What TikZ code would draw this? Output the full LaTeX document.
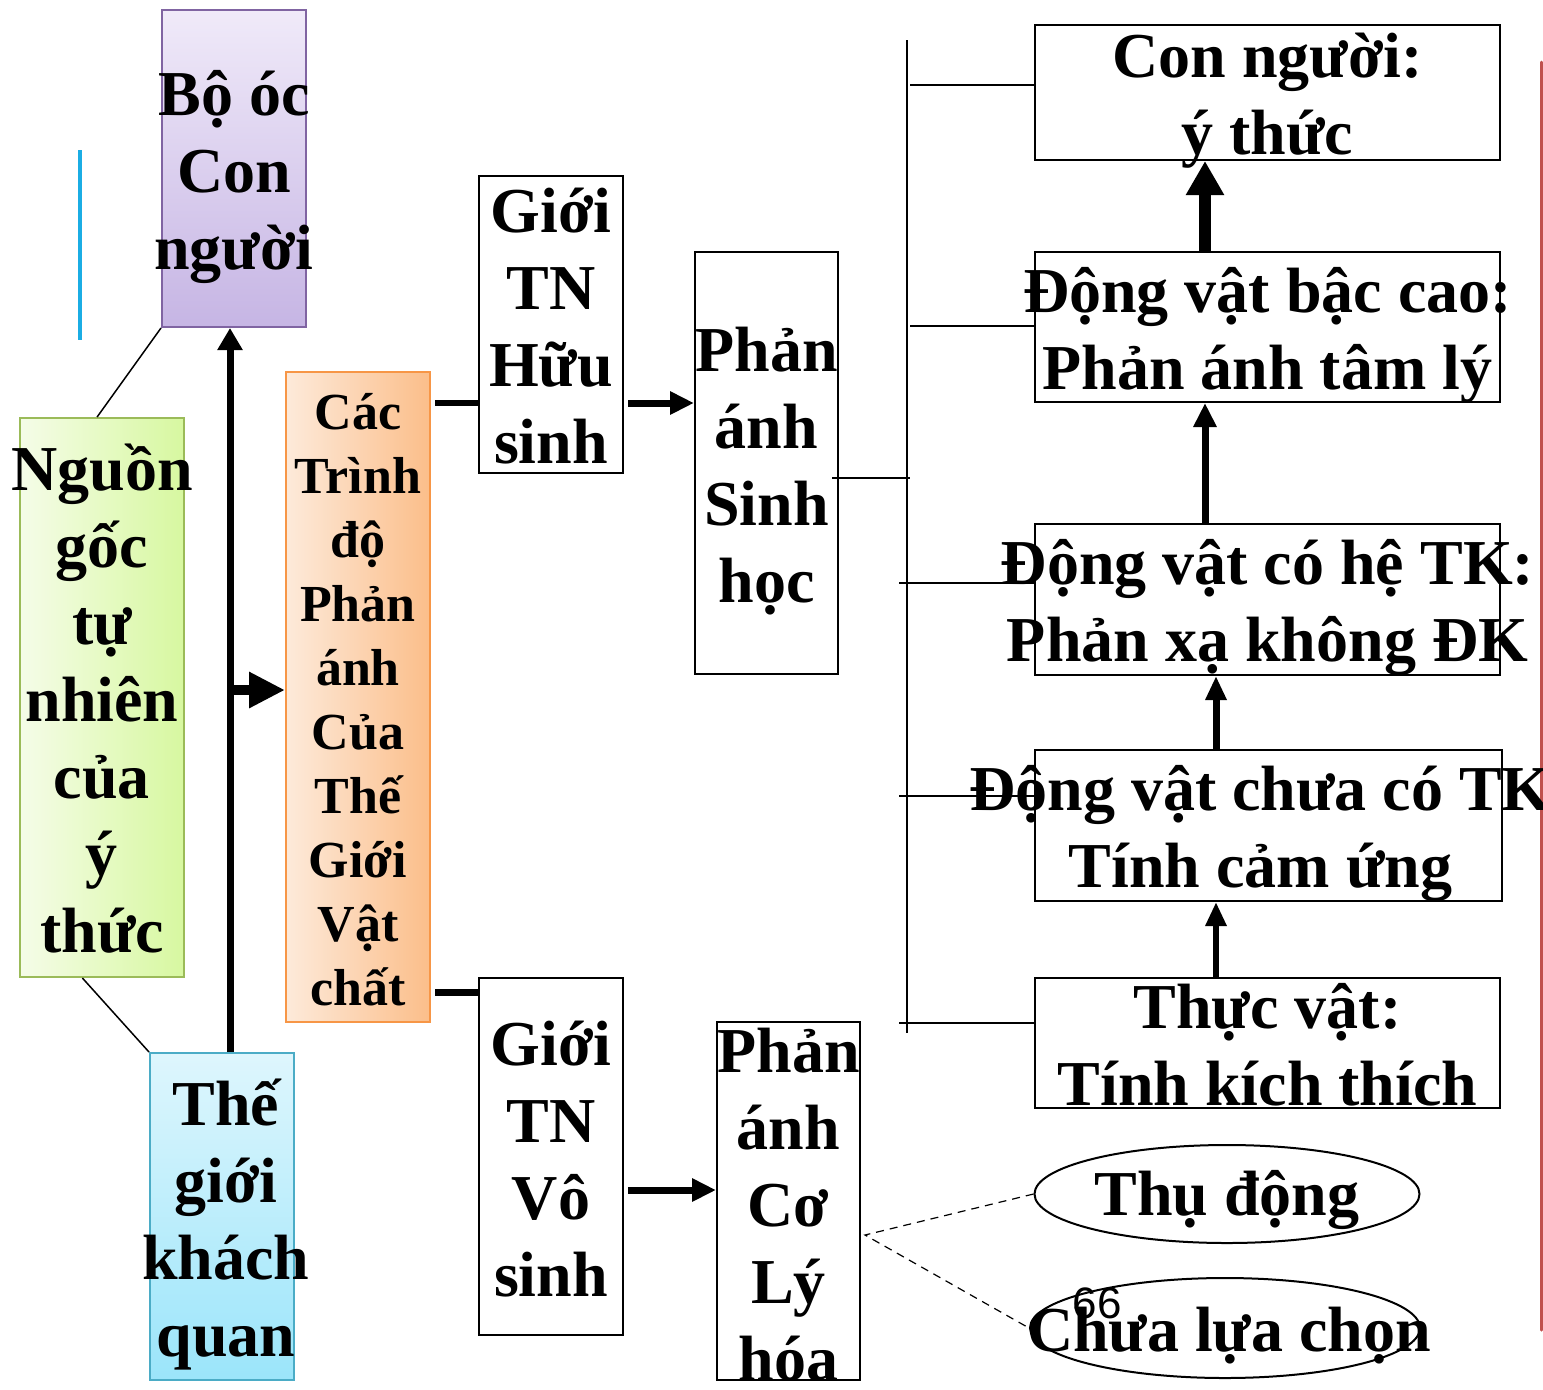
\documentclass[tikz,border=0pt]{standalone}
\usepackage{fontspec}
\setmainfont{Liberation Serif}
\newfontfamily\numfont{Liberation Sans}
\usepackage{tikz}
\usetikzlibrary{arrows.meta}
\usetikzlibrary{shapes.geometric}
\definecolor{BrainTop}{RGB}{240,234,249}
\definecolor{BrainBot}{RGB}{198,181,228}
\definecolor{BrainLine}{RGB}{128,100,162}
\definecolor{OriginLeft}{RGB}{245,252,232}
\definecolor{OriginRight}{RGB}{215,248,160}
\definecolor{OriginLine}{RGB}{155,187,89}
\definecolor{WorldTop}{RGB}{222,246,253}
\definecolor{WorldBot}{RGB}{155,229,250}
\definecolor{WorldLine}{RGB}{75,172,198}
\definecolor{LevelLeft}{RGB}{253,234,218}
\definecolor{LevelRight}{RGB}{251,190,138}
\definecolor{LevelLine}{RGB}{247,150,70}
\definecolor{BarCyan}{RGB}{27,173,228}
\definecolor{BarRed}{RGB}{192,80,77}
\tikzset{
  pbox/.style 2 args={draw,line width=1pt,inner sep=0pt,minimum width=#1*0.5pt,minimum height=#2*0.5pt},
  txt/.style={align=center,inner sep=0pt,yshift=-4pt,font=\fontsize{32}{38.5}\selectfont\bfseries},
  smalltxt/.style={align=center,inner sep=0pt,yshift=-1.5pt,font=\fontsize{26}{32}\selectfont\bfseries},
  arr/.style={line width=3.5pt,-{Triangle[length=12pt,width=11pt]}},
  link/.style={line width=3pt},
  bus/.style={line width=1pt},
  thinline/.style={line width=0.75pt},
  dashline/.style={line width=0.6pt,dash pattern=on 4pt off 3pt}
}
\begin{document}
\begin{tikzpicture}[x=0.5pt,y=-0.5pt]
      \useasboundingbox (0,0) rectangle (1543,1389);
      % left column
      \node[pbox={144}{317},draw=BrainLine,top color=BrainTop,bottom color=BrainBot] (brain) at (234,168.5) {};
      \node[pbox={164}{559},draw=OriginLine,left color=OriginLeft,right color=OriginRight] (origin) at (102,697.5) {};
      \node[pbox={144}{327},draw=WorldLine,top color=WorldTop,bottom color=WorldBot] (world) at (222,1216.5) {};
      \node[pbox={144}{650},draw=LevelLine,left color=LevelLeft,right color=LevelRight] (levels) at (358,697) {};
      \draw[line width=2pt,BarCyan] (80,150) -- (80,340);
      \draw[line width=1.5pt,BarRed,line cap=round] (1541,62) -- (1541,1330);
      % middle boxes
      \node[pbox={144}{297}] (organic) at (551,324.5) {};
      \node[pbox={143}{422}] (bio) at (766.5,463) {};
      \node[pbox={144}{357}] (inorganic) at (551,1156.5) {};
      \node[pbox={143}{358}] (physchem) at (788.5,1201) {};
      % right column
      \node[pbox={465}{135}] (human) at (1267.5,92.5) {};
      \node[pbox={465}{150}] (higher) at (1267.5,327) {};
      \node[pbox={465}{151}] (nerve) at (1267.5,599.5) {};
      \node[pbox={467}{151}] (nonerve) at (1268.5,825.5) {};
      \node[pbox={465}{130}] (plant) at (1267.5,1043) {};
      \node[ellipse,pbox={385}{98}] (passive) at (1227,1194) {};
      \node[ellipse,pbox={390}{100}] (nochoice) at (1225,1328) {};
      % connectors
      \coordinate (spine) at (230,690);
      \coordinate (up) at (435,403);
      \coordinate (down) at (435,992);
      \coordinate (fork) at (865,1235);
      \coordinate (busT) at (907,40);
      \coordinate (busB) at (907,1033);
      \coordinate (bA) at (910,85);
      \coordinate (bB) at (910,326);
      \coordinate (bC) at (899,583);
      \coordinate (bD) at (899,796);
      \coordinate (bE) at (899,1023);
      \coordinate (bF) at (910,478);
      \coordinate (sF) at (832,478);
      \coordinate (axA) at (1205,0);
      \coordinate (axB) at (1216,0);
      \draw[thinline] (origin.91) -- (brain.south west);
      \draw[thinline] (origin.266) -- (world.north west);
      \draw[arr,line width=3.5pt,-{Triangle[length=11pt,width=12pt]}] (spine |- world.north) -- (spine |- brain.south);
      \draw[arr,line width=5pt,-{Triangle[length=18pt,width=17pt]}] (spine) -- (levels.west |- spine);
      \draw[link] (up) -- (organic.west |- up);
      \draw[link,line width=3.5pt] (down) -- (inorganic.west |- down);
      \draw[arr] ([xshift=2pt]organic.east |- up) -- (bio.west |- up);
      \draw[arr] ([xshift=2pt]inorganic.east |- 0,1190) -- (physchem.west |- 0,1190);
      \draw[bus] (busT) -- (busB);
      \draw[bus] (bA) -- (human.west |- bA);
      \draw[bus] (bB) -- (higher.west |- bB);
      \draw[bus] (bC) -- (nerve.west |- bC);
      \draw[bus] (bD) -- (nonerve.west |- bD);
      \draw[bus] (bE) -- (plant.west |- bE);
      \draw[bus] (sF) -- (bF);
      \draw[arr,line width=6pt,-{Triangle[length=17pt,width=18pt]}] (higher.north -| axA) -- (human.south -| axA);
      \draw[arr] (nerve.north -| axA) -- (higher.south -| axA);
      \draw[arr,-{Triangle[length=12pt,width=10pt]}] (nonerve.north -| axB) -- (nerve.south -| axB);
      \draw[arr,line width=3pt,-{Triangle[length=12pt,width=10pt]}] (plant.north -| axB) -- (nonerve.south -| axB);
      \draw[dashline] (passive.west) -- (fork) -- (nochoice.west);
      % texts
      \node[txt] (brainT) at (brain) {Bộ óc\\Con\\người};
      \node[txt,yshift=3.5pt] (originT) at (origin) {Nguồn\\gốc\\tự\\nhiên\\của\\ý\\thức};
      \node[txt] (worldT) at ([xshift=2pt]world.center) {Thế\\giới\\khách\\quan};
      \node[smalltxt] (levelsT) at (levels) {Các\\Trình\\độ\\Phản\\ánh\\Của\\Thế\\Giới\\Vật\\chất};
      \node[txt,yshift=3pt] (organicT) at (organic) {Giới\\TN\\Hữu\\sinh};
      \node[txt] (bioT) at (bio) {Phản\\ánh\\Sinh\\học};
      \node[txt,yshift=2.5pt] (inorganicT) at (inorganic) {Giới\\TN\\Vô\\sinh};
      \node[txt,yshift=2pt] (physchemT) at (physchem) {Phản\\ánh\\Cơ\\Lý\\hóa};
      \node[txt] (humanT) at (human) {Con người:\\ý thức};
      \node[txt] (higherT) at (higher) {Động vật bậc cao:\\Phản ánh tâm lý};
      \node[txt] (nerveT) at (nerve) {Động vật có hệ TK:\\Phản xạ không ĐK};
      \node[txt] (nonerveT) at ([xshift=-4pt]nonerve.center) {Động vật chưa có TK\\Tính cảm ứng};
      \node[txt,yshift=3pt] (plantT) at (plant) {Thực vật:\\Tính kích thích};
      \node[txt,yshift=1pt] (passiveT) at (passive) {Thụ động};
      \node[txt] (nochoiceT) at ([xshift=2pt]nochoice.center) {Chưa lựa chọn};
      \node[font=\numfont\fontsize{22}{26}\selectfont] (page) at (1097,1303) {66};
\end{tikzpicture}
\end{document}
